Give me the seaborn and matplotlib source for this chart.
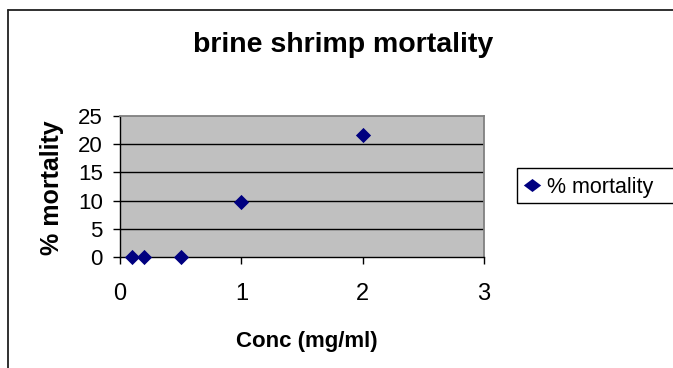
import matplotlib
matplotlib.use("Agg")
import matplotlib.pyplot as plt
import seaborn as sns
import pandas as pd
from matplotlib.lines import Line2D
from matplotlib.patches import Rectangle

conc = [0.1, 0.2, 0.5, 1.0, 2.0]
mortality = [0.0, 0.0, 0.0, 9.8, 21.6]
series_name = "% mortality"
title = "brine shrimp mortality"
xlabel = "Conc (mg/ml)"
ylabel = "% mortality"
x_ticks = [0, 1, 2, 3]
y_ticks = [0, 5, 10, 15, 20, 25]

sns.set_theme(style="white")
plt.rcParams['font.family'] = ['Liberation Sans', 'DejaVu Sans']
plt.rcParams['text.color'] = 'black'
plt.rcParams['axes.labelcolor'] = 'black'
plt.rcParams['xtick.color'] = 'black'
plt.rcParams['ytick.color'] = 'black'

W, H = 673, 368
fig = plt.figure(figsize=(W / 100, H / 100), dpi=100)


def fx(px):
    return px / W


def fy(py):
    return 1 - py / H


# plot area in pixels: left 120, top 116, right 484, bottom 257
L, T, R, B = 120, 116, 484, 257
ax = fig.add_axes([fx(L), fy(B), (R - L) / W, (B - T) / H])
ax.set_facecolor("#C0C0C0")

df = pd.DataFrame({"conc": conc, "mort": mortality})
sns.scatterplot(data=df, x="conc", y="mort", ax=ax, marker="D", s=60,
                color="#000080", edgecolor="#000080", linewidth=0, zorder=5,
                clip_on=False, legend=False)

ax.set_xlim(x_ticks[0], x_ticks[-1])
ax.set_ylim(y_ticks[0], y_ticks[-1])
ax.set_xticks(x_ticks)
ax.set_yticks(y_ticks)
for yv in y_ticks[1:-1]:
    ax.axhline(yv, color="black", lw=1, zorder=1)

for side in ["top", "right"]:
    ax.spines[side].set_color("#808080")
    ax.spines[side].set_linewidth(1.3)
for side in ["left", "bottom"]:
    ax.spines[side].set_color("black")
    ax.spines[side].set_linewidth(1)

ax.tick_params(axis="both", which="both", direction="out", length=5, width=1,
               color="black", labelcolor="black")
ax.tick_params(axis="x", bottom=True, labelsize=17, pad=14)
ax.tick_params(axis="y", left=True, labelsize=16, pad=7.5)
ax.set_xlabel("")
ax.set_ylabel("")

# axis titles
fig.text(fx(307), fy(347), xlabel, ha="center", va="baseline",
         fontsize=16, fontweight="bold", color="black")
fig.text(fx(52), fy(188), ylabel, ha="center", va="center", rotation=90,
         fontsize=18, fontweight="bold", color="black")

# chart title
fig.text(fx(343), fy(52), title, ha="center", va="baseline",
         fontsize=20.5, fontweight="bold", color="black")

# legend
diamond = [(-1, 0), (0, 0.75), (1, 0), (0, -0.75), (-1, 0)]
handle = Line2D([], [], marker=diamond, color="#000080", linestyle="none",
                markersize=12.5, markeredgewidth=0)
leg = fig.legend([handle], [series_name], loc="center left",
                 bbox_to_anchor=(fx(521), fy(187)), frameon=False,
                 fontsize=15.5, handlelength=1.0, handletextpad=0.2,
                 borderpad=0, borderaxespad=0, labelcolor="black")
fig.add_artist(Rectangle((fx(516.5), fy(203.3)), fx(700) - fx(516.5),
                         fy(168.3) - fy(203.3), transform=fig.transFigure,
                         fill=False, edgecolor="black", lw=1, clip_on=False))

# outer chart border (right/bottom lie beyond the image)
fig.add_artist(Line2D([fx(7.5), fx(7.5)], [0, fy(10)], color="#202020", lw=1.3))
fig.add_artist(Line2D([fx(7.5), 1], [fy(10), fy(10)], color="#202020", lw=1.3))

fig.savefig("out.png", dpi=100, facecolor="white")
